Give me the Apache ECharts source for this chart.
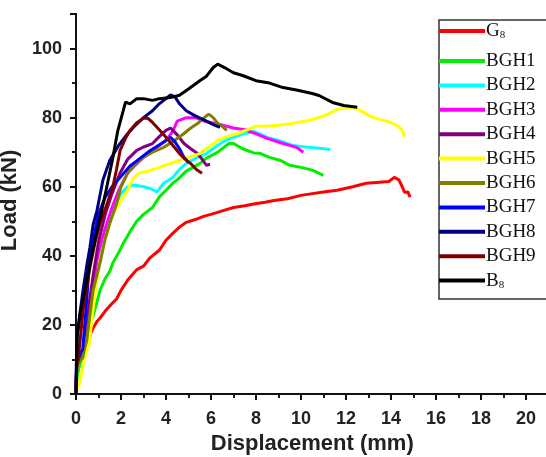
<!DOCTYPE html>
<html><head><meta charset="utf-8">
<script src="https://cdn.jsdelivr.net/npm/echarts@6/dist/echarts.min.js"></script>
<style>html,body{margin:0;padding:0;background:#fff}#c{width:546px;height:457px}</style>
</head><body><div id="c"></div>
<script>
const seriesNames = ['G8','BGH1','BGH2','BGH3','BGH4','BGH5','BGH6','BGH7','BGH8','BGH9','B8'];
const seriesColors = ['#ff0000','#00ee00','#00ffff','#ff00ff','#800080','#ffff00','#808000','#0000ff','#000080','#800000','#000000'];
const xTicks = [0,2,4,6,8,10,12,14,16,18,20];
const yTicks = [0,20,40,60,80,100];

const G8 = [[0,0],[0.02,6],[0.05,9],[0.2,11],[0.4,12.5],[0.55,15],[0.65,17.5],[0.76,19],[0.93,21],[1.07,22],[1.3,24],[1.5,25.5],[1.8,27.5],[2.0,30],[2.3,33],[2.5,34.5],[2.7,36],[3.0,37],[3.3,39.5],[3.7,41.6],[4.0,44.5],[4.3,46.5],[4.6,48.3],[4.9,49.7],[5.3,50.5],[5.7,51.5],[6.0,52],[6.5,53],[7.0,54],[7.5,54.5],[7.9,55],[8.4,55.5],[8.8,56],[9.4,56.5],[10.0,57.5],[10.5,58],[11.0,58.5],[11.6,59],[12.3,60],[12.9,61],[13.5,61.3],[13.9,61.5],[14.15,62.7],[14.35,62],[14.5,60],[14.6,58.4],[14.75,58.5],[14.85,57]];
const BGH1 = [[0,0],[0.05,5],[0.15,8],[0.3,11],[0.45,15],[0.62,20],[0.76,22.5],[1.07,30],[1.3,33.5],[1.5,35.5],[1.64,38],[1.9,41],[2.1,43.6],[2.4,47],[2.7,50],[3.0,52],[3.4,54],[3.7,57],[4.0,59],[4.3,61],[4.5,62],[4.9,64.5],[5.5,66.7],[5.8,68.3],[6.3,70],[6.8,72.5],[7.0,72.5],[7.4,71],[7.9,69.8],[8.2,69.6],[8.6,68.5],[9.1,67.6],[9.5,66.2],[10.0,65.6],[10.5,64.8],[11.0,63.3]];
const BGH2 = [[0,0],[0.03,7],[0.1,9],[0.25,10],[0.4,13],[0.55,20],[0.7,28],[0.9,35],[1.1,42],[1.4,49],[1.7,54],[2.0,58],[2.3,60],[2.6,60.5],[3.0,60],[3.3,59.5],[3.6,58.5],[3.9,61],[4.3,62.7],[4.6,65],[4.9,66.7],[5.4,68.5],[5.8,69.6],[6.3,72],[6.7,73.6],[7.3,75],[7.9,76],[8.2,75.2],[8.5,74.3],[9.0,73.4],[9.6,72],[10.1,71.6],[10.7,71.2],[11.3,70.8]];
const BGH3 = [[0,0],[0.03,8],[0.1,10],[0.3,11],[0.45,15],[0.6,24],[0.8,33],[1.0,41],[1.3,48],[1.6,54],[1.9,59],[2.3,64],[2.6,66],[3.0,68.5],[3.5,71],[4.0,73.4],[4.3,76],[4.5,79],[4.9,80],[5.3,80],[5.8,78.8],[6.4,78],[7.0,77],[7.5,76.5],[7.9,75.6],[8.5,74],[9.2,72.5],[9.8,71.4],[10.1,70]];
const BGH4 = [[0,0],[0.03,8],[0.1,10],[0.3,11],[0.45,17],[0.6,27],[0.8,36],[1.0,44],[1.3,52],[1.6,58],[1.96,64],[2.3,68],[2.7,70.5],[3.0,71.5],[3.4,72.5],[3.7,74.5],[4.0,76.3],[4.2,77],[4.5,75],[4.8,72.5],[5.1,71],[5.4,69.6],[5.6,68],[5.8,66.2],[5.96,66.5]];
const BGH5 = [[0,0],[0.05,2],[0.15,3],[0.3,8],[0.45,12],[0.6,15],[0.8,27],[1.07,38.7],[1.3,45],[1.64,52],[2.1,57],[2.3,59],[2.5,62],[2.8,64],[3.2,64.5],[3.7,65.6],[4.1,66.5],[4.6,67.6],[5.0,68.5],[5.5,69.6],[5.9,71.5],[6.3,73.4],[6.7,74.5],[7.3,75.7],[8.0,77.5],[8.6,77.6],[9.0,77.8],[9.6,78.3],[10.2,79],[10.7,79.8],[11.2,81],[11.7,82.6],[12.2,82.8],[12.5,82.6],[13.1,80.3],[13.5,79.5],[14.0,78.6],[14.3,77.6],[14.5,76.3],[14.6,74.5]];
const BGH6 = [[0,0],[0.03,7],[0.1,9],[0.3,10.5],[0.5,17],[0.76,30],[1.07,38],[1.3,45],[1.5,49.4],[1.8,55],[2.0,60],[2.3,64],[2.6,66.5],[3.0,68.5],[3.4,70],[3.9,71.4],[4.3,73],[4.8,75.4],[5.1,77],[5.4,78.3],[5.7,80],[5.9,81],[6.1,80],[6.3,78.3],[6.5,77.5],[6.7,76.3]];
const BGH7 = [[0,0],[0.02,9],[0.1,10.5],[0.3,13],[0.45,25],[0.6,38],[0.8,46],[1.0,52],[1.3,57],[1.6,60],[2.0,63],[2.4,66],[2.7,67.5],[3.0,69],[3.3,70.5],[3.8,72.5],[4.2,74.3],[4.4,73],[4.6,71],[4.8,68.5],[5.0,67]];
const BGH8 = [[0,0],[0.02,10],[0.04,16.5],[0.15,22],[0.31,30],[0.5,38],[0.62,42.5],[0.76,49],[0.93,53],[1.2,62],[1.5,67.6],[1.9,72],[2.3,75.4],[2.6,77.5],[3.0,80],[3.4,82],[3.7,84],[4.0,85.5],[4.2,86.6],[4.4,86],[4.6,84],[4.9,82],[5.3,80.5],[5.8,79],[6.1,78],[6.4,77.2]];
const BGH9 = [[0,0],[0.03,8],[0.1,10],[0.18,10.5],[0.31,24],[0.45,30],[0.62,36.7],[0.85,44],[1.07,49.4],[1.35,54.5],[1.64,60],[1.8,65],[1.96,70.5],[2.2,74],[2.4,76.3],[2.7,78.5],[3.0,79.8],[3.2,79.8],[3.4,78.6],[3.7,76.5],[4.0,74.3],[4.3,72],[4.6,69.6],[4.85,68],[5.1,66.7],[5.35,65],[5.6,63.9]];
const B8 = [[0,0],[0.03,10],[0.06,17],[0.2,24],[0.4,30],[0.6,37],[0.84,44.5],[1.07,51],[1.37,60],[1.64,68.5],[1.85,76],[2.1,82],[2.2,84.5],[2.4,84],[2.7,85.5],[3.0,85.5],[3.4,85],[3.7,85.5],[4.2,85.8],[4.6,86.5],[5.0,88.3],[5.5,90.7],[5.8,92],[6.1,94.5],[6.3,95.5],[6.6,94.5],[7.0,93],[7.4,92.2],[8.0,90.7],[8.6,90],[9.2,88.7],[9.8,88],[10.5,87],[10.8,86.4],[11.4,84.4],[11.9,83.5],[12.5,83]];

const allData = [G8,BGH1,BGH2,BGH3,BGH4,BGH5,BGH6,BGH7,BGH8,BGH9,B8];

const chart = echarts.init(document.getElementById('c'), null, {renderer:'canvas'});
const labelFont = {fontFamily:'Liberation Sans, Arial, sans-serif', fontWeight:'bold', fontSize:18, color:'#222'};
const nameFont = {fontFamily:'Liberation Sans, Arial, sans-serif', fontWeight:'bold', fontSize:22, color:'#222'};
const axLine = {show:true, lineStyle:{color:'#111', width:2}};
const serif = 'Liberation Serif, Times New Roman, serif';
const legendText = {fontFamily:serif, fontSize:19, color:'#111', lineHeight:20, padding:[0,0,0,-4],
  rich:{b:{fontFamily:serif, fontSize:19, color:'#111', lineHeight:20},
        s:{fontFamily:serif, fontSize:11, color:'#111', lineHeight:20, verticalAlign:'bottom', padding:[7,0,0,0]}}};
const fmt = function(n){ if(n==='G8') return '{b|G}{s|8}'; if(n==='B8') return '{b|B}{s|8}'; return '{b|'+n+'}'; };
const legendBase = {orient:'vertical', left:439, padding:0, itemGap:4.4, itemWidth:46, itemHeight:4,
  icon:'rect', z:10, formatter:fmt, textStyle:legendText, selectedMode:false};

chart.setOption({
  animation:false,
  backgroundColor:'#fff',
  grid:{left:76, top:14, right:-2.5, bottom:63, containLabel:false, outerBoundsMode:'none'},
  xAxis:[
    {type:'value', min:0, max:21, interval:2, position:'bottom',
     name:'Displacement (mm)', nameLocation:'middle', nameGap:44, nameTextStyle:Object.assign({verticalAlign:'middle'}, nameFont),
     axisLine:axLine, axisTick:{show:true, inside:false, length:6, lineStyle:{color:'#111', width:2}},
     minorTick:{show:true, splitNumber:2, length:4, lineStyle:{color:'#111', width:1.5}},
     axisLabel:Object.assign({margin:16, formatter:v=>xTicks.includes(v)?String(v):''}, labelFont),
     splitLine:{show:false}},
    {type:'value', min:0, max:21, interval:2, position:'top',
     axisLine:axLine, axisTick:{show:true, inside:true, length:6, lineStyle:{color:'#111', width:2}},
     minorTick:{show:true, splitNumber:2, length:4, lineStyle:{color:'#111', width:1.5}},
     axisLabel:{show:false}, splitLine:{show:false}}
  ],
  yAxis:[
    {type:'value', min:0, max:110, interval:20, position:'left',
     name:'Load (kN)', nameLocation:'middle', nameGap:54, nameTextStyle:Object.assign({verticalAlign:'middle', padding:[0,0,0,7]}, nameFont),
     axisLine:axLine, axisTick:{show:true, inside:false, length:6, lineStyle:{color:'#111', width:2}},
     minorTick:{show:true, splitNumber:2, length:4, lineStyle:{color:'#111', width:1.5}},
     axisLabel:Object.assign({margin:14, formatter:v=>yTicks.includes(v)?String(v):''}, labelFont),
     splitLine:{show:false}},
    {type:'value', min:0, max:110, interval:20, position:'right',
     axisLine:axLine, axisTick:{show:true, inside:true, length:6, lineStyle:{color:'#111', width:2}},
     minorTick:{show:true, splitNumber:2, length:4, lineStyle:{color:'#111', width:1.5}},
     axisLabel:{show:false}, splitLine:{show:false}}
  ],
  graphic:[{type:'rect', x:439, y:20, z:9, silent:true,
    shape:{x:0, y:0, width:140, height:279}, style:{fill:'#fff', stroke:'#333', lineWidth:1.5}}],
  legend:[
    Object.assign({top:21, data:['G8']}, legendBase),
    Object.assign({top:51, data:seriesNames.slice(1)}, legendBase)
  ],
  series: seriesNames.map((n,i)=>({
    name:n, type:'line', data:allData[i], xAxisIndex:0, yAxisIndex:0,
    showSymbol:false, symbol:'none', smooth:false,
    lineStyle:{color:seriesColors[i], width:3}, itemStyle:{color:seriesColors[i]}
  }))
});
</script></body></html>
